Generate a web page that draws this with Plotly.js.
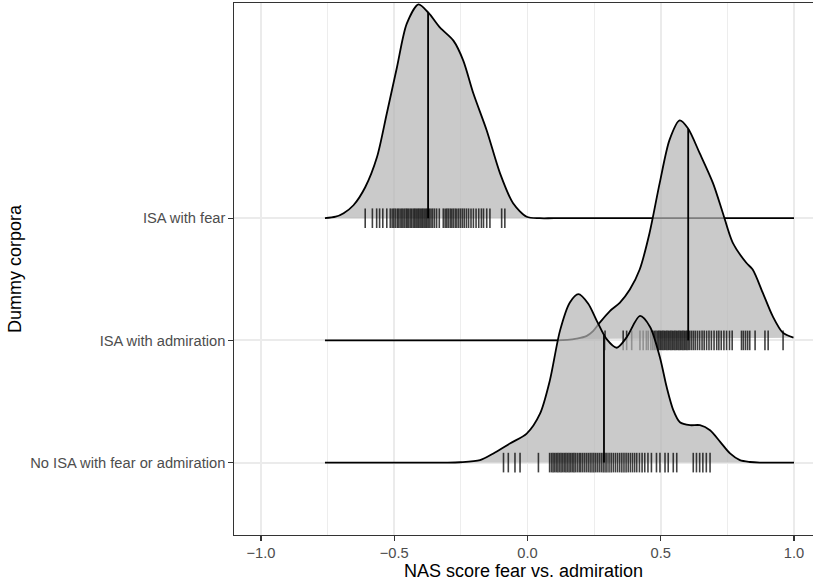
<!DOCTYPE html>
<html>
<head>
<meta charset="utf-8">
<script src="https://cdn.plot.ly/plotly-3.0.1.min.js"></script>
<style>html,body{margin:0;padding:0;background:#fff;}#chart{width:813px;height:581px;}</style>
</head>
<body>
<div id="chart"></div>
<script>
// ---- categories (bottom to top) ----
const categories = ['No ISA with fear or admiration', 'ISA with admiration', 'ISA with fear'];

// ---- density curves (x, ridge height in category units) ----
const fearX = [-0.76, -0.72, -0.69, -0.653, -0.609, -0.565, -0.528, -0.490, -0.453, -0.409, -0.372, -0.328, -0.278, -0.241, -0.203, -0.153, -0.103, -0.054, -0.003, 0.046, 0.10, 1.0];
const fearH = [0, 0.012, 0.041, 0.106, 0.253, 0.498, 0.857, 1.233, 1.592, 1.750, 1.682, 1.559, 1.453, 1.290, 1.020, 0.718, 0.367, 0.122, 0.012, 0, 0, 0];

const admX = [-0.76, 0.05, 0.109, 0.150, 0.184, 0.221, 0.246, 0.271, 0.309, 0.346, 0.384, 0.421, 0.458, 0.496, 0.533, 0.571, 0.602, 0.646, 0.696, 0.733, 0.770, 0.821, 0.845, 0.883, 0.920, 0.958, 0.998];
const admH = [0, 0, 0, 0.004, 0.014, 0.035, 0.076, 0.145, 0.240, 0.307, 0.416, 0.580, 0.879, 1.287, 1.641, 1.800, 1.736, 1.532, 1.287, 1.043, 0.800, 0.635, 0.580, 0.389, 0.198, 0.063, 0.022];

const noneX = [-0.76, -0.30, -0.253, -0.178, -0.128, -0.066, -0.003, 0.047, 0.084, 0.122, 0.159, 0.191, 0.228, 0.260, 0.297, 0.335, 0.372, 0.422, 0.460, 0.497, 0.522, 0.547, 0.572, 0.610, 0.647, 0.685, 0.723, 0.760, 0.797, 0.835, 0.872, 0.92, 1.0];
const noneH = [0, 0, 0.003, 0.02, 0.075, 0.157, 0.237, 0.400, 0.673, 1.080, 1.310, 1.378, 1.300, 1.160, 1.010, 0.940, 1.025, 1.200, 1.110, 0.860, 0.620, 0.430, 0.330, 0.306, 0.306, 0.265, 0.170, 0.075, 0.020, 0.005, 0, 0, 0];

// ---- individual observations (rug) ----
const fearRug = [-0.609, -0.582, -0.566, -0.555, -0.543, -0.528, -0.515, -0.508, -0.502, -0.496, -0.489, -0.484, -0.478, -0.472, -0.467, -0.461, -0.455, -0.450, -0.445, -0.439, -0.434, -0.428, -0.423, -0.418, -0.413, -0.408, -0.403, -0.398, -0.393, -0.388, -0.383, -0.378, -0.373, -0.368, -0.362, -0.356, -0.349, -0.341, -0.331, -0.316, -0.309, -0.303, -0.297, -0.290, -0.284, -0.278, -0.271, -0.265, -0.258, -0.251, -0.244, -0.237, -0.229, -0.221, -0.212, -0.203, -0.193, -0.183, -0.173, -0.165, -0.153, -0.141, -0.097, -0.085];
const admRug = [0.291, 0.359, 0.372, 0.391, 0.422, 0.434, 0.446, 0.453, 0.463, 0.470, 0.476, 0.482, 0.488, 0.493, 0.498, 0.503, 0.508, 0.513, 0.518, 0.523, 0.528, 0.533, 0.538, 0.543, 0.548, 0.553, 0.558, 0.563, 0.568, 0.573, 0.578, 0.583, 0.588, 0.593, 0.598, 0.603, 0.609, 0.616, 0.623, 0.630, 0.638, 0.646, 0.655, 0.663, 0.672, 0.681, 0.690, 0.700, 0.710, 0.718, 0.727, 0.737, 0.747, 0.758, 0.768, 0.803, 0.810, 0.818, 0.826, 0.834, 0.854, 0.891, 0.903, 0.959];
const noneRug = [-0.090, -0.072, -0.047, -0.028, 0.041, 0.083, 0.090, 0.096, 0.102, 0.108, 0.114, 0.120, 0.126, 0.132, 0.138, 0.144, 0.150, 0.156, 0.162, 0.168, 0.174, 0.180, 0.187, 0.194, 0.200, 0.207, 0.214, 0.221, 0.228, 0.235, 0.242, 0.249, 0.256, 0.263, 0.270, 0.277, 0.284, 0.291, 0.298, 0.306, 0.314, 0.322, 0.330, 0.338, 0.346, 0.354, 0.362, 0.370, 0.378, 0.386, 0.394, 0.402, 0.410, 0.420, 0.430, 0.440, 0.452, 0.465, 0.484, 0.497, 0.516, 0.528, 0.547, 0.560, 0.622, 0.634, 0.646, 0.658, 0.671, 0.685];

// ---- medians (quantile lines), same order as categories ----
const medians = [0.287, 0.603, -0.373];

// ---- x tick labels ----
const xTickVals = [-1, -0.5, 0, 0.5, 1];
const xTickText = ['\u22121.0', '\u22120.5', '0.0', '0.5', '1.0'];

const groups = [
  {base: 3, x: fearX, h: fearH, rug: fearRug, med: medians[2]},
  {base: 2, x: admX, h: admH, rug: admRug, med: medians[1]},
  {base: 1, x: noneX, h: noneH, rug: noneRug, med: medians[0]}
];

function interp(xs, hs, v) {
  for (let i = 0; i < xs.length - 1; i++) {
    if (v >= xs[i] && v <= xs[i + 1]) {
      const t = (v - xs[i]) / (xs[i + 1] - xs[i]);
      return hs[i] + t * (hs[i + 1] - hs[i]);
    }
  }
  return 0;
}

const traces = [];
groups.forEach(g => {
  traces.push({
    type: 'scatter', mode: 'lines',
    x: g.x, y: g.h.map(v => g.base + v),
    fill: 'toself', fillcolor: 'rgba(179,179,179,0.7)',
    line: {color: '#000000', width: 1.8, shape: 'spline', smoothing: 0.8},
    hoverinfo: 'skip', showlegend: false
  });
  traces.push({
    type: 'scatter', mode: 'markers',
    x: g.rug, y: g.rug.map(() => g.base),
    marker: {symbol: 'line-ns-open', size: 14, color: 'rgba(0,0,0,0.75)', line: {color: 'rgba(0,0,0,0.75)', width: 1.6}},
    hoverinfo: 'skip', showlegend: false
  });
  traces.push({
    type: 'scatter', mode: 'lines',
    x: [g.med, g.med], y: [g.base, g.base + interp(g.x, g.h, g.med)],
    line: {color: '#000000', width: 1.8},
    hoverinfo: 'skip', showlegend: false
  });
});

const fontFam = '"Liberation Sans", Arial, Helvetica, sans-serif';
const layout = {
  width: 813, height: 581,
  margin: {l: 234, r: 0, t: 3, b: 46, pad: 0},
  paper_bgcolor: '#ffffff', plot_bgcolor: '#ffffff',
  showlegend: false,
  hovermode: false,
  font: {family: fontFam, color: '#000000'},
  xaxis: {
    range: [-1.1013, 1.0713],
    tickmode: 'array', tickvals: xTickVals, ticktext: xTickText,
    tickfont: {family: fontFam, size: 14.7, color: '#4D4D4D'},
    ticks: 'outside', ticklen: 4.6, tickwidth: 1.1, tickcolor: '#333333',
    showline: true, linecolor: '#333333', linewidth: 1.1, mirror: true,
    showgrid: true, gridcolor: '#EBEBEB', gridwidth: 1.8,
    minor: {tickvals: [-0.75, -0.25, 0.25, 0.75], showgrid: true, gridcolor: '#EBEBEB', gridwidth: 0.9, ticks: ''},
    zeroline: false,
    title: {text: 'NAS score fear vs. admiration', font: {family: fontFam, size: 18, color: '#000000'}, standoff: 4}
  },
  yaxis: {
    range: [0.4075, 4.761],
    tickmode: 'array', tickvals: [1, 2, 3], ticktext: categories,
    tickfont: {family: fontFam, size: 14.7, color: '#4D4D4D'},
    ticks: 'outside', ticklen: 4.6, tickwidth: 1.1, tickcolor: '#333333',
    showline: true, linecolor: '#333333', linewidth: 1.1, mirror: false,
    showgrid: true, gridcolor: '#EBEBEB', gridwidth: 1.8,
    zeroline: false,
    title: {text: 'Dummy corpora', font: {family: fontFam, size: 18, color: '#000000'}, standoff: 4}
  }
};

Plotly.newPlot('chart', traces, layout, {staticPlot: true, displayModeBar: false});
</script>
</body>
</html>
